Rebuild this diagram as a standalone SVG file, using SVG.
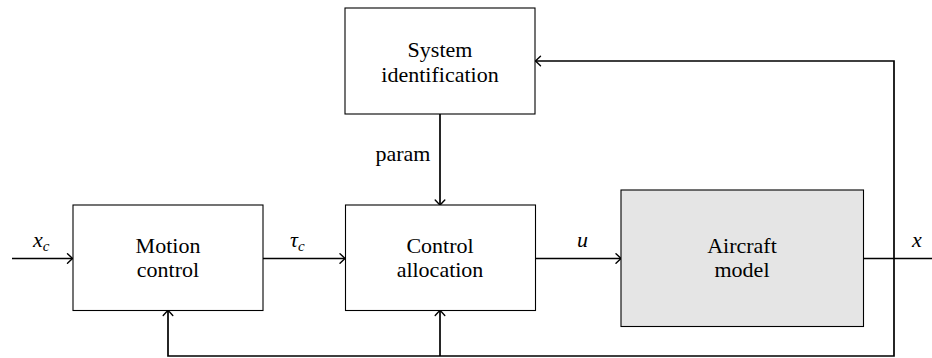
<svg xmlns="http://www.w3.org/2000/svg" width="932" height="358" viewBox="0 0 932 358">
<style>
.box{fill:#fff;stroke:#000;stroke-width:1.1}
.grey{fill:#e5e5e5}
.t{font-family:'Liberation Serif','Times New Roman',serif;font-size:22px;fill:#000;text-anchor:middle}
.m{font-family:'Liberation Serif','Times New Roman',serif;font-size:22px;font-style:italic;fill:#000}
.sub{font-size:15px}
.c{fill:none;stroke:#000;stroke-width:1.7}
</style>
<defs>
<marker id="arr" viewBox="-7 -7 9 14" markerWidth="9" markerHeight="14" refX="0" refY="0" orient="auto" markerUnits="userSpaceOnUse">
<path d="M-5,-4.8 Q-1.2,-1.3 0,0 Q-1.2,1.3 -5,4.8" fill="none" stroke="#000" stroke-width="1.4" stroke-linecap="round"/>
</marker>
</defs>
<g id="connectors">
<path class="c" d="M12,258.5 H72.5" marker-end="url(#arr)"/>
<path class="c" d="M263,258.5 H345" marker-end="url(#arr)"/>
<path class="c" d="M535,258.5 H621" marker-end="url(#arr)"/>
<path class="c" d="M863,258.5 H932"/>
<path class="c" d="M440,114 V205" marker-end="url(#arr)"/>
<path class="c" d="M894,258.5 V61 H535.5" marker-end="url(#arr)"/>
<path class="c" d="M894,258.5 V356 H168 V310.5" marker-end="url(#arr)"/>
<path class="c" d="M440,356 V310.5" marker-end="url(#arr)"/>
<text class="m" x="33" y="247">x<tspan class="sub" dy="4">c</tspan></text>
<text class="m" x="290" y="247">τ<tspan class="sub" dy="4">c</tspan></text>
<text class="m" x="577" y="247">u</text>
<text class="m" x="912" y="247">x</text>
<text class="t" x="403" y="161">param</text>
</g>
<g id="system-identification">
<rect class="box" x="345" y="8" width="190" height="106"/>
<text class="t" x="440" y="56.5">System</text>
<text class="t" x="440" y="82">identification</text>
</g>
<g id="motion-control">
<rect class="box" x="73" y="205" width="190" height="105.5"/>
<text class="t" x="168" y="253">Motion</text>
<text class="t" x="168" y="277">control</text>
</g>
<g id="control-allocation">
<rect class="box" x="345.5" y="205" width="190" height="105.5"/>
<text class="t" x="440" y="253">Control</text>
<text class="t" x="440" y="277">allocation</text>
</g>
<g id="aircraft-model">
<rect class="box grey" x="621" y="190" width="242.5" height="136.5"/>
<text class="t" x="742" y="253">Aircraft</text>
<text class="t" x="742" y="277">model</text>
</g>
</svg>
